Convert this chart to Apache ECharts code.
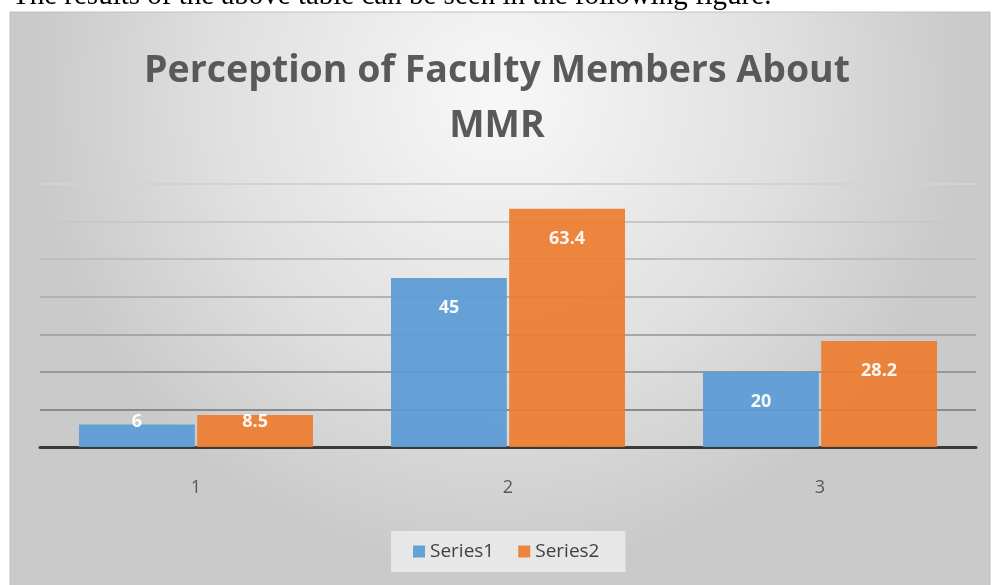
<!DOCTYPE html>
<html>
<head>
<meta charset="utf-8">
<script src="https://cdn.jsdelivr.net/npm/echarts@6/dist/echarts.min.js"></script>
<style>
html,body{margin:0;padding:0;background:#fff;}
#chart{width:994px;height:585px;}
</style>
</head>
<body>
<div id="chart"></div>
<script>
const categories = ['1', '2', '3'];
const series1 = [6, 45, 20];
const series2 = [8.5, 63.4, 28.2];
const seriesNames = ['Series1', 'Series2'];
const titleLines = ['Perception of Faculty Members About', 'MMR'];
const captionText = 'The results of the above table can be seen in the following figure.';

const chart = echarts.init(document.getElementById('chart'));

function makeData(arr) {
  return arr.map(function (v) {
    if (v < 10) {
      return { value: v, label: { position: 'insideBottom', distance: 16 } };
    }
    return { value: v };
  });
}

const labelStyle = {
  show: true,
  position: 'insideTop',
  distance: 21,
  color: '#ffffff',
  fontFamily: 'Open Sans',
  fontWeight: 'bold',
  fontSize: 18
};

chart.setOption({
  backgroundColor: '#ffffff',
  animation: false,
  graphic: [
    {
      type: 'text', z: -20, left: 12, top: -18,
      style: {
        text: captionText,
        fill: '#000000',
        font: '29px "Liberation Serif"'
      }
    },
    {
      type: 'rect', z: -10, silent: true,
      shape: { x: 10, y: 12, width: 980, height: 580 },
      style: {
        fill: {
          type: 'radial', x: 0.5, y: 0.15, r: 0.8,
          colorStops: [
            { offset: 0, color: '#f8f8f8' },
            { offset: 0.6, color: '#e0e0e0' },
            { offset: 1, color: '#cacaca' }
          ]
        },
        stroke: '#c0c0c0', lineWidth: 1
      }
    }
  ],
  title: {
    text: titleLines.join('\n'),
    left: 'center',
    top: 39,
    textStyle: {
      fontFamily: 'Open Sans',
      fontWeight: 'bold',
      fontSize: 37.5,
      color: '#595959',
      lineHeight: 55
    }
  },
  legend: {
    data: seriesNames,
    bottom: 13,
    left: 391,
    backgroundColor: 'rgba(240,240,240,0.75)',
    padding: [11, 26, 11, 22],
    itemWidth: 12,
    itemHeight: 12,
    itemGap: 24,
    icon: 'rect',
    textStyle: { fontFamily: 'Open Sans', fontSize: 19, color: '#404040' }
  },
  grid: { left: 40, right: 18, top: 184, bottom: 138 },
  xAxis: {
    type: 'category',
    data: categories,
    axisLine: { lineStyle: { color: '#3a3a3a', width: 3 } },
    axisTick: { show: false },
    axisLabel: { color: '#595959', fontFamily: 'Open Sans', fontSize: 18, margin: 32 }
  },
  yAxis: {
    type: 'value',
    min: 0, max: 70, interval: 10,
    axisLabel: { show: false },
    axisLine: { show: false },
    axisTick: { show: false },
    splitLine: {
      lineStyle: {
        width: 2,
        color: ['#888888', '#8a8a8a', '#989898', '#a6a6a6', '#b2b2b2', '#bebebe', '#c8c8c8', '#d2d2d2']
      }
    }
  },
  series: [
    {
      name: seriesNames[0], type: 'bar', data: makeData(series1),
      barGap: '2%', barCategoryGap: '25%',
      itemStyle: { color: '#5e9dd6', opacity: 0.95 },
      label: labelStyle
    },
    {
      name: seriesNames[1], type: 'bar', data: makeData(series2),
      barGap: '2%', barCategoryGap: '25%',
      itemStyle: { color: '#ed7d31', opacity: 0.93 },
      label: labelStyle
    }
  ]
});
</script>
</body>
</html>
